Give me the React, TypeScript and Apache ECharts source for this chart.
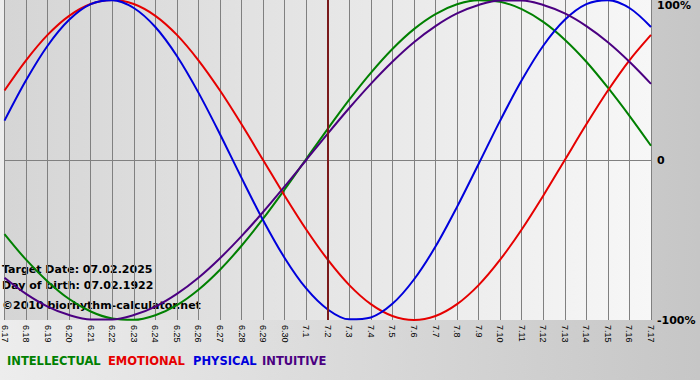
import React, { useEffect, useRef } from "react";
import * as echarts from "echarts";

const categories = [
  "6.17", "6.18", "6.19", "6.20", "6.21", "6.22", "6.23", "6.24", "6.25", "6.26",
  "6.27", "6.28", "6.29", "6.30", "7.1", "7.2", "7.3", "7.4", "7.5", "7.6",
  "7.7", "7.8", "7.9", "7.10", "7.11", "7.12", "7.13", "7.14", "7.15", "7.16", "7.17",
];

const intellectual = [
  -46.3, -62.3, -75.9, -86.9, -94.7, -99.1, -99.9, -97.0, -90.7, -81.1, -68.6,
  -53.6, -36.7, -18.4, 0.6, 19.5, 37.7, 54.5, 69.4, 81.8, 91.2, 97.3, 99.9, 98.9,
  94.3, 86.3, 75.2, 61.4, 45.2, 27.6, 8.9,
];
const emotional = [
  43.4, 62.3, 78.2, 90.1, 97.5, 100, 97.5, 90.1, 78.2, 62.3, 43.4, 22.3, 0,
  -22.3, -43.4, -62.3, -78.2, -90.1, -97.5, -100, -97.5, -90.1, -78.2, -62.3,
  -43.4, -22.3, 0, 22.3, 43.4, 62.3, 78.2,
];
const physical = [
  24.6, 49.8, 71.4, 87.6, 97.4, 99.9, 95.0, 83.1, 65.0, 42.1, 16.1, -11.2, -37.6,
  -61.2, -80.3, -93.4, -99.6, -98.4, -89.9, -74.7, -54.1, -29.3, -2.5, 24.6, 49.8,
  71.4, 87.6, 97.4, 99.9, 95.0, 83.1,
];
const intuitive = [
  -73.6, -83.7, -91.6, -96.9, -99.7, -99.7, -96.9, -91.6, -83.7, -73.6, -61.4,
  -47.6, -32.5, -16.5, 0, 16.5, 32.5, 47.6, 61.4, 73.6, 83.7, 91.6, 96.9, 99.7,
  99.7, 96.9, 91.6, 83.7, 73.6, 61.4, 47.6,
];

const markerDay = "7.2";
const infoLines = [
  "Target Date: 07.02.2025",
  "Day of birth: 07.02.1922",
  "©2010 biorhythm-calculator.net",
];
const legendNames = ["INTELLECTUAL", "EMOTIONAL", "PHYSICAL", "INTUITIVE"];
const colors = ["#008000", "#e60000", "#0000dc", "#4b0082"];

export default function App() {
  const ref = useRef<HTMLDivElement>(null);
  useEffect(() => {
    if (!ref.current) return;
    const chart = echarts.init(ref.current, null, { renderer: "svg" });
    const font = "DejaVu Sans, Verdana, sans-serif";
    const seriesData = [intellectual, emotional, physical, intuitive];
    const legendX = [7, 108, 193, 262];
    const infoY = [271, 287, 307];
    chart.setOption({
      animation: false,
      backgroundColor: new echarts.graphic.LinearGradient(0, 0, 1, 0, [
        { offset: 0, color: "#ededed" },
        { offset: 1, color: "#c6c6c6" },
      ]),
      grid: {
        left: 0,
        top: 0,
        right: 49,
        bottom: 60,
        show: true,
        borderWidth: 0,
        backgroundColor: new echarts.graphic.LinearGradient(0, 0, 1, 0, [
          { offset: 0, color: "#d5d5d5" },
          { offset: 1, color: "#f7f7f7" },
        ]),
      },
      xAxis: {
        type: "category",
        data: categories,
        boundaryGap: false,
        axisLine: { lineStyle: { color: "#808080", width: 1 } },
        axisTick: { show: true, length: 4, interval: 0, lineStyle: { color: "#808080" } },
        axisLabel: {
          interval: 0,
          rotate: -90,
          margin: 5,
          fontSize: 9,
          fontFamily: "Liberation Sans, Arial, sans-serif",
          color: "#000",
        },
        splitLine: { show: true, interval: 0, lineStyle: { color: "#808080", width: 1 } },
      },
      yAxis: {
        type: "value",
        position: "right",
        min: -100,
        max: 100,
        interval: 100,
        axisLine: { show: false },
        axisTick: { show: false },
        axisLabel: {
          margin: 6,
          fontSize: 11,
          fontWeight: "bold",
          fontFamily: font,
          color: "#000",
          verticalAlignMaxLabel: "top",
          formatter: (v: number) => (v === 0 ? "0" : v + "%"),
        },
        splitLine: {
          show: true,
          lineStyle: { color: ["rgba(0,0,0,0)", "#808080", "rgba(0,0,0,0)"], width: 1 },
        },
      },
      graphic: [
        ...infoLines.map((t, i) => ({
          type: "text",
          left: 2,
          top: infoY[i] - 7,
          z: 0,
          style: {
            text: t,
            fill: "#000",
            font: `bold 11px ${font}`,
          },
        })),
        ...legendNames.map((t, i) => ({
          type: "text",
          left: legendX[i],
          top: 355,
          style: {
            text: t,
            fill: colors[i],
            font: `bold 11.5px ${font}`,
          },
        })),
      ],
      series: seriesData.map((d, i) => ({
        name: legendNames[i],
        type: "line",
        data: d,
        smooth: 0.33,
        showSymbol: false,
        lineStyle: { color: colors[i], width: 2 },
        itemStyle: { color: colors[i] },
        markLine:
          i === 0
            ? {
                silent: true,
                symbol: ["none", "none"],
                label: { show: false },
                data: [{ xAxis: markerDay, lineStyle: { color: "#7b1a1a", width: 2, type: "solid" } }],
              }
            : undefined,
      })),
    });
    return () => chart.dispose();
  }, []);
  return (
    <div
      ref={ref}
      style={{ position: "absolute", left: 0, top: 0, width: 700, height: 380 }}
    />
  );
}
